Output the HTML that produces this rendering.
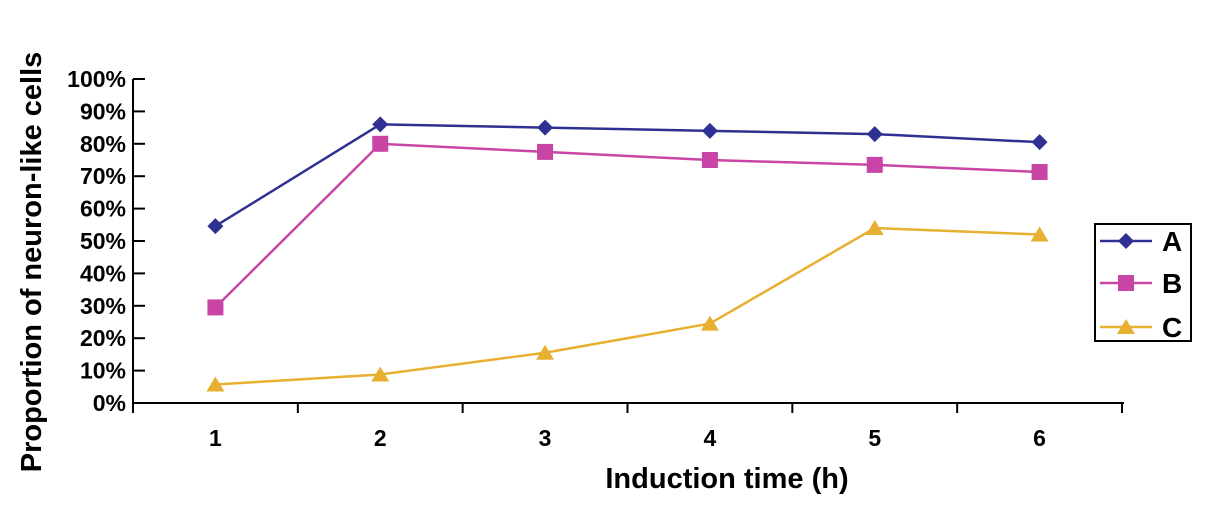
<!DOCTYPE html>
<html><head><meta charset="utf-8"><style>
body{margin:0;background:#fff;}
svg text{font-family:"Liberation Sans",Arial,sans-serif;font-weight:bold;fill:#000;}
</style></head><body>
<svg id="chart" width="1205" height="507" xmlns="http://www.w3.org/2000/svg"></svg>
<script>
const categories=["1","2","3","4","5","6"];
const seriesA=[54.6,86,85,84,83,80.5];
const seriesB=[29.5,80,77.5,75,73.5,71.3];
const seriesC=[5.7,8.8,15.5,24.5,54,52];
const yTicks=[0,10,20,30,40,50,60,70,80,90,100];
const seriesNames=["A","B","C"];
const svg=document.getElementById('chart');
const NS="http://www.w3.org/2000/svg";
const X0=133,X1=1122,Y0=403,Y1=79;
const band=(X1-X0)/categories.length;
const xs=i=>X0+band*(i+0.5);
const ys=v=>Y0-(v/100)*(Y0-Y1);
function mk(tag,attrs,parent){const e=document.createElementNS(NS,tag);for(const k in attrs)e.setAttribute(k,attrs[k]);(parent||svg).appendChild(e);return e;}
// axes
let e=mk('line',{x1:X0,y1:Y1,x2:X0,y2:Y0,stroke:'#000','stroke-width':2});


e=mk('line',{x1:X0,y1:Y0,x2:X1+2,y2:Y0,stroke:'#000','stroke-width':2});


yTicks.forEach(t=>{
  const y=ys(t);
  let l=mk('line',{x1:X0,y1:y,x2:X0+12,y2:y,stroke:'#000','stroke-width':2});
  
  
  let tx=mk('text',{x:126,y:y+8,'text-anchor':'end','font-size':23});
  tx.textContent=t+'%';
  
  
});
for(let i=0;i<=categories.length;i++){
  const x=X0+band*i;
  let l=mk('line',{x1:x,y1:Y0,x2:x,y2:Y0+10,stroke:'#000','stroke-width':2});
  
  
}
categories.forEach((c,i)=>{
  let tx=mk('text',{x:xs(i),y:446,'text-anchor':'middle','font-size':23});
  tx.textContent=c;
  
  
});
let t=mk('text',{x:727,y:488,'text-anchor':'middle','font-size':29});
t.textContent='Induction time (h)';


t=mk('text',{x:0,y:0,'text-anchor':'middle','font-size':29,transform:'translate(41,262) rotate(-90)'});
t.textContent='Proportion of neuron-like cells';


function marker(shape,x,y,color,g){
  if(shape==='d')return mk('polygon',{points:`${x},${y-8} ${x+8},${y} ${x},${y+8} ${x-8},${y}`,fill:color},g);
  if(shape==='s')return mk('rect',{x:x-8,y:y-8,width:16,height:16,fill:color},g);
  return mk('polygon',{points:`${x},${y-8} ${x+9},${y+7} ${x-9},${y+7}`,fill:color},g);
}
const all=[[seriesA,'#2e3192','d'],[seriesB,'#c845a6','s'],[seriesC,'#e8b030','t']];
all.forEach(([vals,color,shape],si)=>{
  const g=mk('g',{});
  
  
  let p=mk('polyline',{points:vals.map((v,i)=>xs(i)+','+ys(v)).join(' '),fill:'none',stroke:color,'stroke-width':2.5},g);
  
  
  vals.forEach((v,i)=>{
    let m=marker(shape,xs(i),ys(v),color,g);
    
    
  });
});
// legend
const lg=mk('g',{});


mk('rect',{x:1095,y:224,width:96,height:117,fill:'#fff',stroke:'#000','stroke-width':2},lg);
const ly=[241,283,327];
all.forEach(([vals,color,shape],si)=>{
  const g=mk('g',{},lg);
  
  
  mk('line',{x1:1100,y1:ly[si],x2:1152,y2:ly[si],stroke:color,'stroke-width':2.5},g);
  marker(shape,1126,ly[si],color,g);
  let tx=mk('text',{x:1162,y:ly[si]+10,'font-size':28,'font-weight':'normal'},g);
  tx.textContent=seriesNames[si];
});
</script>
</body></html>
